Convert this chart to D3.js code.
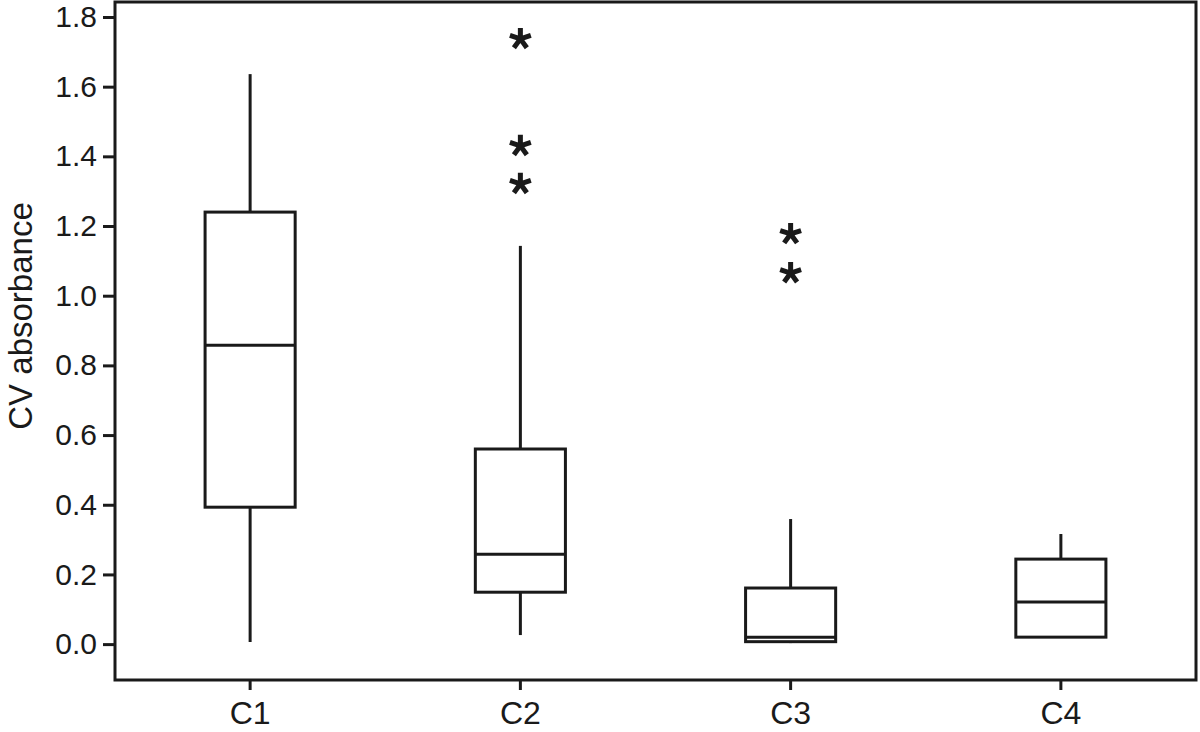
<!DOCTYPE html>
<html>
<head>
<meta charset="utf-8">
<script src="https://cdn.jsdelivr.net/npm/d3@7"></script>
<style>
  html, body { margin: 0; padding: 0; background: #fff; }
  svg { display: block; }
  text { font-family: "Liberation Sans", Arial, sans-serif; fill: #1a1a1a; }
</style>
</head>
<body>
<svg id="chart" width="1200" height="732"></svg>
<script>
// ---- data ----
const categories = ["C1", "C2", "C3", "C4"];
const whiskerLow  = [0.006, 0.026, 0.003, 0.020];
const q1          = [0.393, 0.149, 0.007, 0.020];
const median      = [0.858, 0.258, 0.020, 0.121];
const q3          = [1.240, 0.560, 0.161, 0.244];
const whiskerHigh = [1.636, 1.143, 0.359, 0.316];
const outlierCats   = ["C2", "C2", "C2", "C3", "C3"];
const outlierValues = [1.740, 1.433, 1.324, 1.180, 1.068];
const yTicks = [0.0, 0.2, 0.4, 0.6, 0.8, 1.0, 1.2, 1.4, 1.6, 1.8];
const yLabel = "CV absorbance";

(function () {
  // ---- layout ----
  const mLeft = 115, mRight = 1196, mTop = 2, mBottom = 680;
  const ink = "#1a1a1a";
  const svg = d3.select("#chart");

  const x = d3.scaleBand().domain(categories).range([mLeft, mRight]).padding(0);
  const y = d3.scaleLinear().domain([-0.103, 1.843]).range([mBottom, mTop]);
  const boxW = x.bandwidth() / 3;

  // frame
  svg.append("rect")
    .attr("x", mLeft).attr("y", mTop)
    .attr("width", mRight - mLeft).attr("height", mBottom - mTop)
    .attr("fill", "none").attr("stroke", ink).attr("stroke-width", 3);

  // y axis
  const yAxis = d3.axisLeft(y).tickValues(yTicks).tickFormat(d3.format(".1f"))
    .tickSize(11).tickPadding(6);
  const gy = svg.append("g").attr("transform", `translate(${mLeft - 1},0)`).call(yAxis);
  gy.select(".domain").remove();
  gy.selectAll(".tick line").attr("stroke", ink).attr("stroke-width", 3);
  gy.selectAll(".tick text").attr("font-size", 30).attr("fill", ink)
    .style("font-family", '"Liberation Sans", Arial, sans-serif');

  // x axis
  const xAxis = d3.axisBottom(x).tickSize(9).tickPadding(11);
  const gx = svg.append("g").attr("transform", `translate(0,${mBottom + 1})`).call(xAxis);
  gx.select(".domain").remove();
  gx.selectAll(".tick line").attr("stroke", ink).attr("stroke-width", 3);
  gx.selectAll(".tick text").attr("font-size", 32).attr("fill", ink)
    .style("font-family", '"Liberation Sans", Arial, sans-serif');

  // y label
  svg.append("text")
    .attr("transform", `translate(32, 316) rotate(-90)`)
    .attr("text-anchor", "middle")
    .attr("font-size", 33)
    .text(yLabel);

  // boxes
  const boxes = categories.map((c, i) => ({
    c, lo: whiskerLow[i], q1: q1[i], med: median[i], q3: q3[i], hi: whiskerHigh[i]
  }));
  const g = svg.append("g").attr("stroke", ink).attr("stroke-width", 3).attr("fill", "none");

  boxes.forEach(b => {
    const cx = x(b.c) + x.bandwidth() / 2;
    g.append("line").attr("x1", cx).attr("x2", cx).attr("y1", y(b.q3)).attr("y2", y(b.hi));
    g.append("line").attr("x1", cx).attr("x2", cx).attr("y1", y(b.q1)).attr("y2", y(b.lo));
    g.append("rect")
      .attr("x", cx - boxW / 2).attr("y", y(b.q3))
      .attr("width", boxW).attr("height", y(b.q1) - y(b.q3))
      .attr("fill", "#fff");
    g.append("line").attr("x1", cx - boxW / 2).attr("x2", cx + boxW / 2)
      .attr("y1", y(b.med)).attr("y2", y(b.med));
  });

  // outliers as 5-armed asterisks
  const r = 11;
  const angles = [-90, -18, 54, 126, 198].map(a => a * Math.PI / 180);
  function starPath(cx, cy) {
    return angles.map(a => `M${cx},${cy}L${cx + r * Math.cos(a)},${cy + r * Math.sin(a)}`).join("");
  }
  outlierValues.forEach((v, i) => {
    const cx = x(outlierCats[i]) + x.bandwidth() / 2;
    svg.append("path")
      .attr("d", starPath(cx, y(v) + 1))
      .attr("stroke", ink).attr("stroke-width", 5).attr("fill", "none");
  });
})();
</script>
</body>
</html>
